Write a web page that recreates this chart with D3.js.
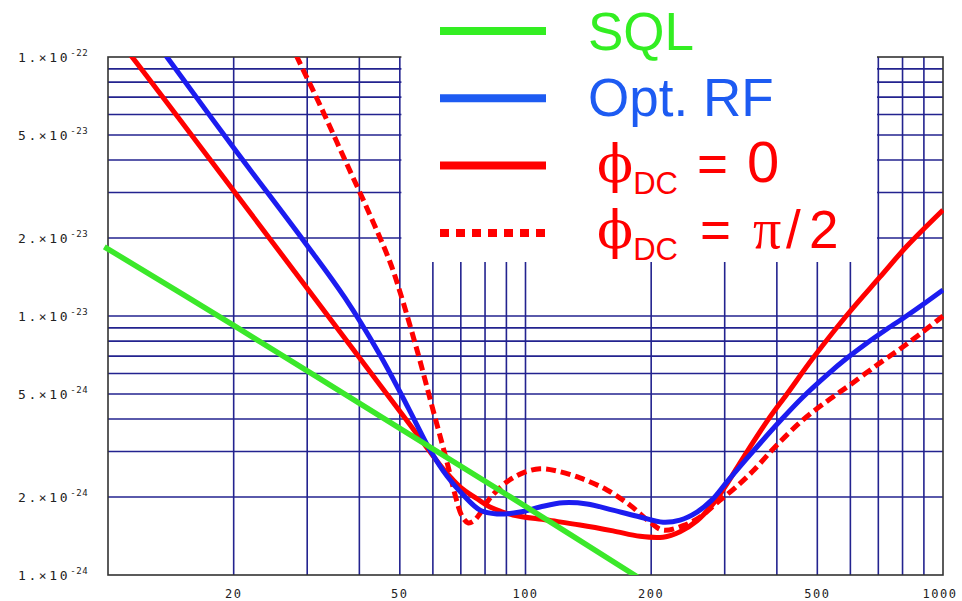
<!DOCTYPE html>
<html>
<head>
<meta charset="utf-8">
<script src="https://cdn.jsdelivr.net/npm/d3@7"></script>
<style>
  body { margin: 0; background: #fff; }
  svg { display: block; }
</style>
</head>
<body>
<div class="chart"></div>
<script>
/* axis ticks and grid values (noise in units of 1e-24) */
const xTickValues = [20, 50, 100, 200, 500, 1000];
const xGridValues = [20, 30, 40, 50, 60, 70, 80, 90, 100, 200, 300, 400, 500, 600, 700, 800, 900];
const yTickValues = [1, 2, 5, 10, 20, 50, 100];
const yTickMantissa = ["1.", "2.", "5.", "1.", "2.", "5.", "1."];
const yTickExponent = ["-24", "-24", "-24", "-23", "-23", "-23", "-22"];
const yGridValues = [2, 3, 4, 5, 6, 7, 8, 9, 10, 20, 30, 40, 50, 60, 70, 80, 90];

/* SQL */
const sqlFreq = [9.8, 20, 50, 100, 186];
const sqlNoise = [18.5, 9.2, 3.68, 1.84, 0.98];

/* Opt. RF */
const optFreq = [13.1, 13.84, 19.93, 29.32, 36.95, 44.82, 50.05, 54.36, 59.06, 64.86, 70.85, 77.83, 85.45, 97.0, 108.3, 123.0, 140.4, 162.0, 188.0, 213.5, 234.5, 257.5, 279.7, 303.8, 344.9, 407.0, 462.0, 530.3, 589.0, 657.6, 734.3, 810.9, 905.5, 1000];
const optNoise = [113.3, 100, 44.93, 19.66, 11.74, 7.07, 5.09, 3.93, 3.04, 2.41, 2.04, 1.78, 1.72, 1.75, 1.83, 1.90, 1.88, 1.78, 1.675, 1.60, 1.63, 1.75, 1.95, 2.29, 2.91, 3.93, 4.87, 5.97, 6.88, 7.87, 8.91, 9.91, 11.22, 12.6];

/* phi_DC = 0 */
const phi0Freq = [10.68, 11.42, 19.93, 30.97, 44.82, 52.89, 59.06, 64.15, 69.67, 76.54, 82.2, 93.34, 112.6, 135.1, 162.0, 188.0, 213.5, 234.5, 257.5, 279.7, 303.8, 331.9, 380.9, 423.0, 488.3, 589.0, 706.5, 820.0, 1000];
const phi0Noise = [114.3, 100, 30.65, 11.95, 5.42, 3.80, 2.99, 2.52, 2.19, 1.97, 1.83, 1.705, 1.63, 1.56, 1.48, 1.41, 1.40, 1.47, 1.62, 1.86, 2.25, 2.83, 3.97, 5.0, 6.88, 10.09, 14.15, 18.63, 25.67];

/* phi_DC = pi/2 */
const phiHalfFreq = [27.29, 28.36, 32.19, 36.95, 42.42, 47.36, 50.05, 54.97, 60.04, 64.86, 68.15, 70.44, 72.81, 75.26, 78.26, 82.2, 90.29, 98.63, 108.3, 119.0, 135.1, 156.7, 178.0, 198.7, 213.5, 238.4, 261.8, 287.5, 317.6, 350.6, 398.1, 462.0, 536.2, 598.8, 695.0, 788.9, 880.9, 1000];
const phiHalfNoise = [114.3, 100, 65.26, 40.03, 24.55, 16.16, 12.38, 7.39, 4.34, 2.73, 1.98, 1.69, 1.59, 1.62, 1.75, 1.98, 2.29, 2.48, 2.57, 2.52, 2.37, 2.13, 1.86, 1.60, 1.49, 1.55, 1.675, 1.90, 2.17, 2.52, 3.15, 3.97, 4.78, 5.42, 6.47, 7.46, 8.52, 10.0];

/* build series table (drawing order) */
const series = [
  { name: "phiHalf", freq: phiHalfFreq, noise: phiHalfNoise, color: "#ff0000", width: 5, dash: "10,5" },
  { name: "phi0", freq: phi0Freq, noise: phi0Noise, color: "#ff0000", width: 5, dash: null },
  { name: "opt", freq: optFreq, noise: optNoise, color: "#1c1cf0", width: 5, dash: null },
  { name: "sql", freq: sqlFreq, noise: sqlNoise, color: "#3be82a", width: 5.5, dash: null }
];

const width = 962, height = 601;
const plot = { left: 108, right: 943, top: 57, bottom: 575 };

const svg = d3.select(".chart").append("svg")
  .attr("width", width)
  .attr("height", height);

const xScale = d3.scaleLog().domain([10, 1000]).range([plot.left, plot.right]);
const yScale = d3.scaleLog().domain([1, 100]).range([plot.bottom, plot.top]);

const gridColor = "#23238f";

/* grid lines */
svg.append("g").selectAll("line")
  .data(xGridValues)
  .enter().append("line")
  .attr("x1", d => xScale(d)).attr("x2", d => xScale(d))
  .attr("y1", plot.top).attr("y2", plot.bottom)
  .attr("stroke", gridColor).attr("stroke-width", 1.6);

svg.append("g").selectAll("line")
  .data(yGridValues)
  .enter().append("line")
  .attr("x1", plot.left).attr("x2", plot.right)
  .attr("y1", d => yScale(d)).attr("y2", d => yScale(d))
  .attr("stroke", gridColor).attr("stroke-width", 1.6);

/* frame */
svg.append("rect")
  .attr("x", plot.left).attr("y", plot.top)
  .attr("width", plot.right - plot.left).attr("height", plot.bottom - plot.top)
  .attr("fill", "none").attr("stroke", "#333").attr("stroke-width", 1.6);

/* tick labels */
const tickFont = "'DejaVu Sans Mono', monospace";

svg.append("g").selectAll("text")
  .data(xTickValues)
  .enter().append("text")
  .attr("x", d => d === 1000 ? xScale(d) - 3 : xScale(d))
  .attr("y", 598)
  .attr("text-anchor", "middle")
  .attr("font-family", tickFont)
  .attr("font-size", 12)
  .attr("letter-spacing", 1.5)
  .attr("fill", "#222")
  .text(d => d);

const yLabels = svg.append("g").selectAll("text")
  .data(yTickValues)
  .enter().append("text")
  .attr("x", 18)
  .attr("y", d => yScale(d) + 5)
  .attr("font-family", tickFont)
  .attr("font-size", 13)
  .attr("letter-spacing", 2.6)
  .attr("fill", "#222");

yLabels.append("tspan").text((d, i) => yTickMantissa[i] + "×10");
yLabels.append("tspan")
  .attr("dy", -6)
  .attr("font-size", 9)
  .attr("letter-spacing", 0.6)
  .text((d, i) => yTickExponent[i]);

/* clip curves to the plot box */
svg.append("clipPath").attr("id", "clip")
  .append("rect")
  .attr("x", 95).attr("y", plot.top)
  .attr("width", plot.right - 95 + 1).attr("height", plot.bottom - plot.top);

const line = d3.line()
  .x(d => xScale(d[0]))
  .y(d => yScale(d[1]))
  .curve(d3.curveCatmullRom.alpha(0.5));

svg.append("g").attr("clip-path", "url(#clip)")
  .selectAll("path")
  .data(series)
  .enter().append("path")
  .attr("d", s => line(s.freq.map((f, i) => [f, s.noise[i]])))
  .attr("fill", "none")
  .attr("stroke", s => s.color)
  .attr("stroke-width", s => s.width)
  .attr("stroke-dasharray", s => s.dash);

/* legend panel covers the grid */
const legendNames = ["SQL", "Opt. RF", "phi0", "phiHalf"];
const legendColors = ["#33ee22", "#1d5bf2", "#ff0000", "#ff0000"];

svg.append("rect")
  .attr("x", 401.4).attr("y", 0)
  .attr("width", 877 - 401.4).attr("height", 262)
  .attr("fill", "#fff");

const legend = svg.append("g").attr("class", "legend");

legend.selectAll("line")
  .data(legendNames)
  .enter().append("line")
  .attr("x1", 440).attr("x2", 546)
  .attr("y1", (d, i) => 31 + i * 67.3)
  .attr("y2", (d, i) => 31 + i * 67.3)
  .attr("stroke", (d, i) => legendColors[i])
  .attr("stroke-width", 8)
  .attr("stroke-dasharray", d => d === "phiHalf" ? "9,7" : null);

const sans = "'Liberation Sans', Arial, sans-serif";
const serif = "'DejaVu Serif', 'Liberation Serif', serif";
const times = "'Liberation Serif', 'DejaVu Serif', serif";

const legendText = legend.selectAll("text")
  .data(legendNames)
  .enter().append("text")
  .attr("x", d => d.startsWith("phi") ? 597 : 588)
  .attr("y", (d, i) => 50 + i * 66)
  .attr("font-family", sans)
  .attr("font-size", 53)
  .attr("fill", (d, i) => legendColors[i]);

legendText.each(function (d) {
  const t = d3.select(this);
  if (!d.startsWith("phi")) {
    t.text(d);
    return;
  }
  t.append("tspan").attr("font-family", serif).attr("font-weight", 300).text("ϕ");
  t.append("tspan").attr("font-size", 31).attr("dy", 12).text("DC");
  t.append("tspan").attr("dy", -12).attr("x", d === "phi0" ? 697 : 700).text("=");
  if (d === "phi0") {
    t.append("tspan").attr("x", 747).attr("font-size", 58).text("0");
  } else {
    t.append("tspan").attr("x", 753).attr("font-family", times).attr("font-size", 56).text("π");
    t.append("tspan").attr("x", 786).text("/");
    t.append("tspan").attr("x", 809).text("2");
  }
});
</script>
</body>
</html>
